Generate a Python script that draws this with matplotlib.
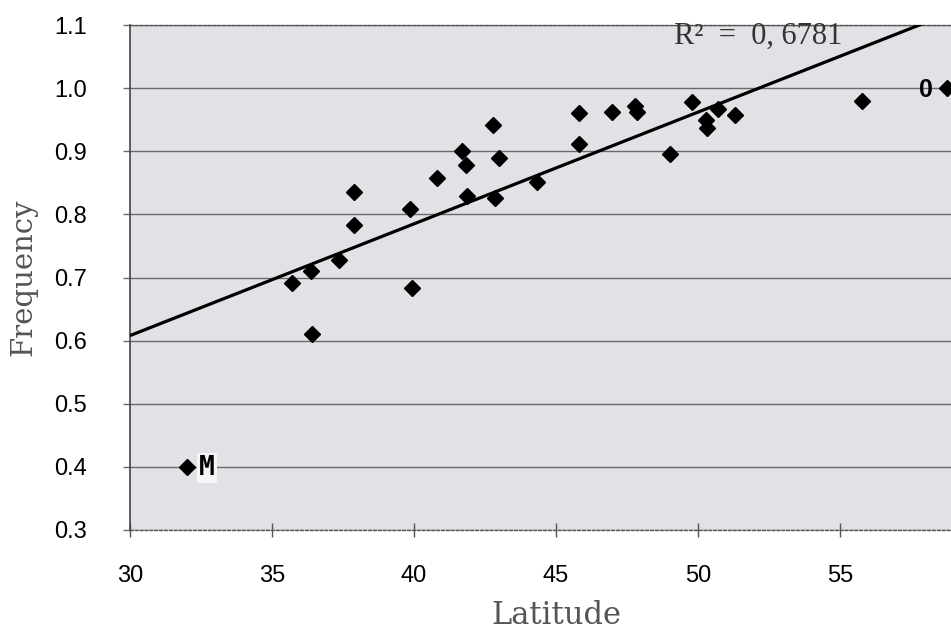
import numpy as np
import matplotlib
matplotlib.use("Agg")
import matplotlib.pyplot as plt

# ---- data ----
latitude = [32.0, 35.7, 36.37, 36.4, 37.36, 37.9, 37.9, 39.86, 39.93, 40.8,
            41.7, 41.83, 41.87, 42.78, 43.0, 42.85, 44.33, 45.8, 45.8, 46.97,
            47.78, 47.85, 49.0, 49.8, 50.28, 50.3, 50.7, 51.3, 55.77, 58.77]
frequency = [0.40, 0.692, 0.71, 0.61, 0.727, 0.783, 0.835, 0.809, 0.683, 0.857,
             0.90, 0.878, 0.829, 0.941, 0.889, 0.826, 0.851, 0.96, 0.911, 0.962,
             0.971, 0.962, 0.895, 0.978, 0.949, 0.937, 0.967, 0.957, 0.979, 1.0]
fit_intercept = 0.077
fit_slope = 0.0177
r2_text = "R²  =  0, 6781"
x_ticks = [30, 35, 40, 45, 50, 55]
y_ticks = [0.3, 0.4, 0.5, 0.6, 0.7, 0.8, 0.9, 1.0, 1.1]
y_ticklabels = ["0.3", "0.4", "0.5", "0.6", "0.7", "0.8", "0.9", "1.0", "1.1"]
point_labels = {0: "M", 29: "0"}

fig = plt.figure(figsize=(9.51, 6.30), dpi=100)
ax = fig.add_axes([130 / 951, 1 - 530 / 630, 852 / 951, 505 / 630])
ax.set_facecolor("#e2e1e6")

ax.set_xlim(30, 60)
ax.set_ylim(0.3, 1.1)

# horizontal grid
ax.yaxis.grid(True, color="#6a6a6a", lw=1.0)
ax.xaxis.grid(False)
ax.set_axisbelow(True)

# regression line
xl = np.array([30, 60])
ax.plot(xl, fit_intercept + fit_slope * xl, color="black", lw=2.3, zorder=3,
        solid_capstyle="butt")

# points
ax.plot(latitude, frequency, linestyle="none", marker="D", ms=8,
        color="black", zorder=4, clip_on=False)

# point labels
ax.annotate(point_labels[0], (latitude[0], frequency[0]), xytext=(9, -1),
            textcoords="offset points", ha="left", va="center",
            fontsize=19, fontweight="bold", family="DejaVu Sans Mono",
            color="black", zorder=5,
            bbox=dict(fc="#f6f6f6", ec="none", pad=1.5))
ax.annotate(point_labels[29], (latitude[29], frequency[29]), xytext=(-10, -1),
            textcoords="offset points", ha="right", va="center",
            fontsize=18, fontweight="bold", family="Liberation Sans",
            color="black", zorder=5)

# R^2 text
ax.text(49.15, 1.082, r2_text, ha="left", va="center", fontsize=22,
        family="Liberation Serif", color="#333333", zorder=5)

# spines
for s in ["top", "bottom"]:
    ax.spines[s].set_color("#555555")
    ax.spines[s].set_linestyle((0, (2, 1.5)))
    ax.spines[s].set_linewidth(1.0)
ax.spines["left"].set_color("#444444")
ax.spines["left"].set_linewidth(1.2)
ax.spines["right"].set_visible(False)

ax.set_xticks(x_ticks)
ax.set_xticklabels([str(t) for t in x_ticks])
ax.set_yticks(y_ticks)
ax.set_yticklabels(y_ticklabels)
ax.tick_params(axis="x", direction="inout", length=10, width=1, color="#555555",
               pad=20, labelsize=17)
ax.tick_params(axis="y", direction="out", length=5, width=1, color="#6a6a6a",
               pad=26, labelsize=17)
for lab in ax.get_xticklabels() + ax.get_yticklabels():
    lab.set_family("Liberation Sans")
    lab.set_color("black")

ax.set_xlabel("Latitude", fontsize=22, family="DejaVu Serif", color="#555555")
ax.xaxis.set_label_coords(0.5, -0.138)
ax.set_ylabel("Frequency", fontsize=21, family="DejaVu Serif", color="#555555")
ax.yaxis.set_label_coords(-0.109, 0.5)

fig.savefig("out.png", dpi=100)
